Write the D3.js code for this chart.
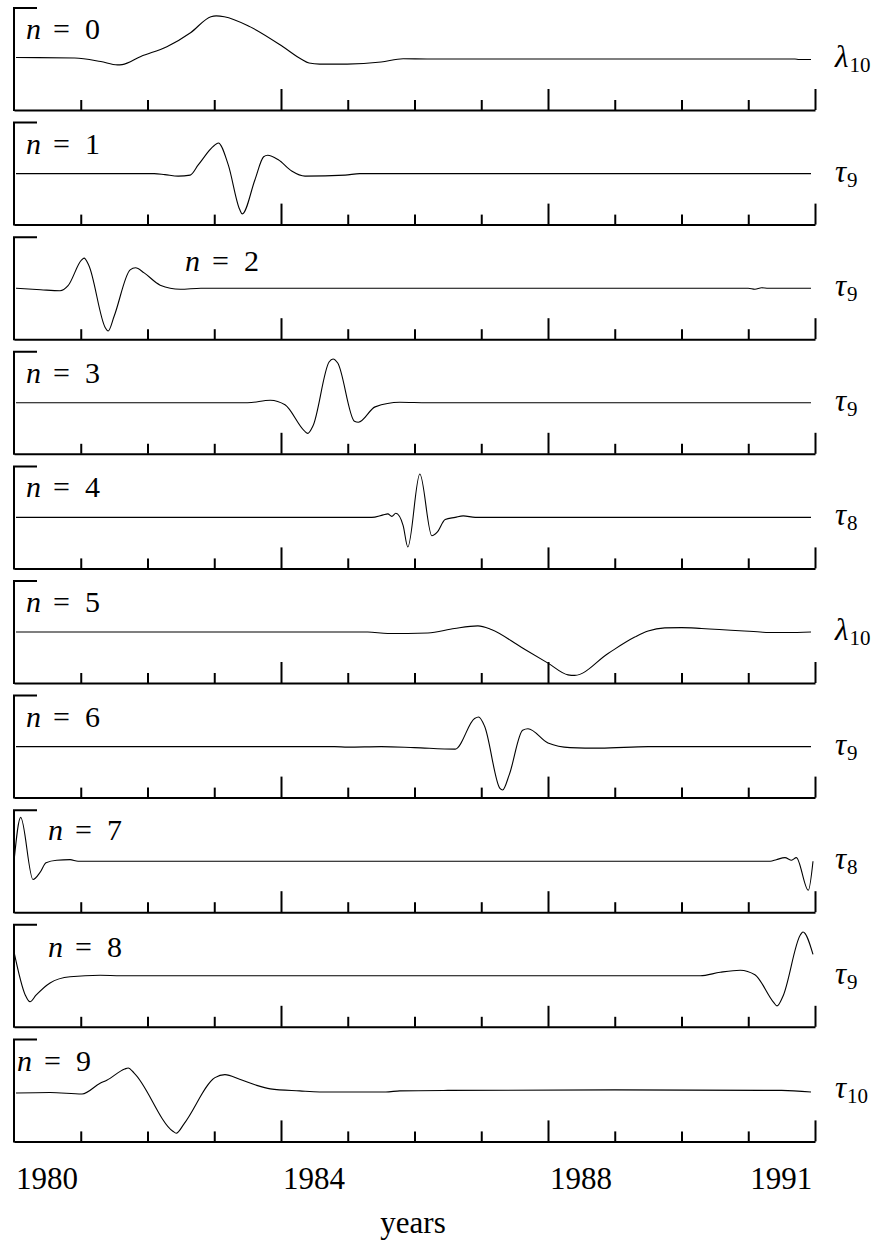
<!DOCTYPE html>
<html>
<head>
<meta charset="utf-8">
<script src="https://cdn.jsdelivr.net/npm/d3@7"></script>
<style>
  html, body { margin: 0; padding: 0; background: #fff; }
  svg { display: block; }
  text { font-family: "Liberation Serif", "Times New Roman", serif; fill: #000; }
</style>
</head>
<body>
<svg id="chart" width="883" height="1245"></svg>
<script>
// ---- data -------------------------------------------------------------
// time axis (years) and tick marks
const startYear = 1980;
const endYear = 1992;
const minorTickYears = [1981, 1982, 1983, 1985, 1986, 1987, 1989, 1990, 1991];
const majorTickYears = [1984, 1988, 1992];
const labelYears = [1980, 1984, 1988, 1991];

// order of each component and the scale symbol shown at its right
const orders = [0, 1, 2, 3, 4, 5, 6, 7, 8, 9];
const scaleSymbols = ["λ", "τ", "τ", "τ", "τ", "λ", "τ", "τ", "τ", "τ"];
const scaleSubscripts = ["10", "9", "9", "9", "8", "10", "9", "8", "9", "10"];

// component series: [years since 1980, amplitude]
const comp0 = [[0.03, 0.03], [0.91, 0.02], [1.30, -0.05], [1.55, -0.115], [1.62, -0.11], [1.90, 0.05],
  [2.29, 0.24], [2.65, 0.52], [2.95, 0.83], [3.03, 0.845], [3.15, 0.83], [3.54, 0.63], [4.03, 0.24],
  [4.30, 0.0], [4.42, -0.08], [4.58, -0.10], [4.99, -0.10], [5.50, -0.06], [5.83, 0.005],
  [6.19, 0.0], [11.70, 0.0], [11.76, -0.01], [11.94, -0.01]];
const comp1 = [[0.03, 0.0], [2.10, 0.0], [2.26, -0.02], [2.46, -0.05], [2.64, -0.03], [2.76, 0.17],
  [3.00, 0.55], [3.06, 0.60], [3.21, 0.17], [3.38, -0.70], [3.42, -0.79], [3.61, -0.12], [3.74, 0.33],
  [3.80, 0.36], [3.96, 0.27], [4.16, 0.05], [4.36, -0.05], [4.96, -0.03], [5.18, 0.0], [11.94, 0.0]];
const comp2 = [[0.03, 0.0], [0.40, -0.03], [0.69, -0.05], [0.81, 0.05], [1.01, 0.55], [1.05, 0.59],
  [1.12, 0.45], [1.37, -0.78], [1.41, -0.84], [1.50, -0.55], [1.74, 0.36], [1.82, 0.40], [1.95, 0.30],
  [2.19, 0.06], [2.49, -0.02], [2.80, 0.0], [11.00, 0.0], [11.10, -0.02], [11.20, 0.01], [11.30, 0.0],
  [11.94, 0.0]];
const comp3 = [[0.03, 0.0], [2.30, 0.0], [3.50, 0.0], [3.84, 0.05], [4.06, -0.04], [4.35, -0.55],
  [4.40, -0.60], [4.48, -0.45], [4.72, 0.80], [4.78, 0.86], [4.85, 0.78], [5.10, -0.36], [5.16, -0.38],
  [5.41, -0.08], [5.78, 0.01], [6.20, 0.0], [11.94, 0.0]];
const comp4 = [[0.03, 0.0], [5.36, 0.0], [5.53, 0.05], [5.60, 0.07], [5.66, 0.02], [5.72, 0.08],
  [5.83, -0.16], [5.90, -0.58], [6.08, 0.85], [6.26, -0.36], [6.34, -0.29], [6.46, -0.04],
  [6.61, 0.0], [6.73, 0.03], [6.91, 0.0], [11.94, 0.0]];
const comp5 = [[0.03, 0.0], [5.30, 0.0], [5.60, -0.03], [6.20, -0.02], [6.60, 0.07], [6.95, 0.12],
  [7.15, 0.05], [7.60, -0.30], [8.00, -0.61], [8.30, -0.84], [8.40, -0.85], [8.90, -0.42],
  [9.30, -0.10], [9.50, 0.02], [9.75, 0.08], [10.0, 0.085], [10.30, 0.07], [11.18, 0.0],
  [11.30, -0.01], [11.58, -0.01], [11.94, 0.0]];
const comp6 = [[0.03, 0.0], [4.80, 0.0], [5.00, -0.01], [5.50, 0.0], [6.00, -0.02], [6.61, -0.05],
  [6.90, 0.55], [6.96, 0.58], [7.05, 0.40], [7.28, -0.82], [7.32, -0.85], [7.42, -0.55], [7.62, 0.32],
  [7.70, 0.35], [8.00, 0.07], [8.33, -0.02], [8.78, -0.03], [9.50, 0.0], [11.94, 0.0]];
const comp7 = [[0.0, 0.0], [0.10, 0.86], [0.285, -0.36], [0.39, -0.22], [0.48, -0.03], [0.64, 0.02],
  [0.84, 0.03], [0.96, 0.0], [11.33, 0.0], [11.42, 0.03], [11.55, 0.07], [11.65, 0.02],
  [11.72, 0.07], [11.90, -0.57], [11.97, 0.0]];
const comp8 = [[0.0, 0.47], [0.17, -0.38], [0.24, -0.51], [0.33, -0.38], [0.54, -0.14], [0.84, -0.02],
  [1.29, 0.01], [1.60, 0.0], [10.28, 0.0], [10.58, 0.07], [10.88, 0.11], [11.10, 0.02], [11.38, -0.52],
  [11.43, -0.59], [11.52, -0.40], [11.78, 0.80], [11.82, 0.86], [11.97, 0.42]];
const comp9 = [[0.03, -0.05], [0.54, -0.04], [1.02, -0.07], [1.29, 0.14], [1.39, 0.20], [1.66, 0.42],
  [1.71, 0.44], [1.80, 0.34], [2.38, -0.80], [2.43, -0.84], [2.55, -0.65], [3.01, 0.25], [3.16, 0.31],
  [3.38, 0.22], [3.61, 0.11], [3.84, 0.03], [4.28, -0.01], [4.58, -0.03], [5.57, -0.03], [5.78, -0.01],
  [6.50, 0.0], [9.00, 0.01], [11.50, 0.0], [11.94, -0.03]];
const components = [comp0, comp1, comp2, comp3, comp4, comp5, comp6, comp7, comp8, comp9];

// ---- layout -----------------------------------------------------------
const svg = d3.select("#chart");
const serif = "Liberation Serif";
const firstTop = 8;
const panelStep = 114.6;
const panelHeight = 102;
const left = 14, right = 815;
// where the "n = k" caption sits inside each panel: [x, offset below panel top]
const captionPos = [[26, 31], [26, 31], [185, 34], [26, 31], [26, 31], [26, 31], [26, 31],
  [48, 30], [48, 32], [17, 32]];

const x = d3.scaleLinear().domain([startYear, endYear]).range([left, right]);

components.forEach((series, i) => {
  const top = firstTop + i * panelStep;
  const bottom = top + panelHeight;
  const y = d3.scaleLinear().domain([-1, 1]).range([bottom, top]);
  const g = svg.append("g");

  // frame: short top bar + left side
  g.append("path")
    .attr("d", `M${left + 22},${top}H${left}V${bottom}`)
    .attr("fill", "none").attr("stroke", "#000").attr("stroke-width", 2)
    .attr("stroke-linecap", "square");

  // bottom axis with upward ticks
  const minorAxis = d3.axisTop(x).tickValues(minorTickYears).tickSize(10)
    .tickSizeOuter(0).tickFormat("");
  const majorAxis = d3.axisTop(x).tickValues(majorTickYears).tickSize(21)
    .tickSizeOuter(0).tickFormat("");
  const ga = g.append("g").attr("transform", `translate(0,${bottom})`).call(minorAxis);
  const gb = g.append("g").attr("transform", `translate(0,${bottom})`).call(majorAxis);
  gb.select(".domain").remove();
  [ga, gb].forEach(a => {
    a.selectAll("path, line").attr("stroke", "#000").attr("stroke-width", 2);
  });

  // component curve
  const line = d3.line()
    .x(d => x(startYear + d[0]))
    .y(d => y(d[1]))
    .curve(d3.curveMonotoneX);
  g.append("path")
    .datum(series)
    .attr("d", line)
    .attr("fill", "none")
    .attr("stroke", "#000")
    .attr("stroke-width", 1.1)
    .attr("stroke-linejoin", "round");

  // caption "n = k"
  const [cx, cdy] = captionPos[i];
  const cap = g.append("text").attr("y", top + cdy)
    .attr("font-family", serif).attr("font-size", 30);
  cap.append("tspan").attr("x", cx).attr("font-style", "italic").text("n");
  cap.append("tspan").attr("x", cx + 27).text("=");
  cap.append("tspan").attr("x", cx + 59).text(orders[i]);

  // scale symbol on the right
  const sym = g.append("text").attr("x", 835).attr("y", y(0) + 8)
    .attr("font-family", serif).attr("font-size", 31);
  sym.append("tspan").attr("font-style", "italic").text(scaleSymbols[i]);
  sym.append("tspan").attr("font-size", 21).attr("dx", 1).attr("dy", 5).text(scaleSubscripts[i]);
});

// year labels under the last panel
const lastBottom = firstTop + 9 * panelStep + panelHeight;
svg.append("g").selectAll("text")
  .data(labelYears)
  .join("text")
  .attr("x", d => x(d) + 2)
  .attr("y", lastBottom + 48)
  .attr("font-family", serif)
  .attr("font-size", 31)
  .text(d => d);

svg.append("text")
  .attr("x", 413)
  .attr("y", 1233)
  .attr("text-anchor", "middle")
  .attr("font-family", serif)
  .attr("font-size", 31)
  .text("years");
</script>
</body>
</html>
